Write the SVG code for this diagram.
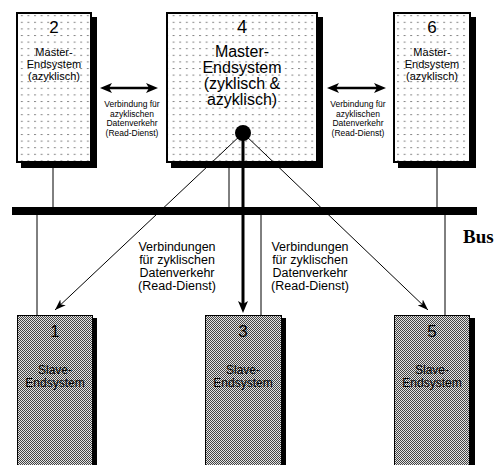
<svg xmlns="http://www.w3.org/2000/svg" width="503" height="465" viewBox="0 0 503 465">
<defs>
<pattern id="dots" patternUnits="userSpaceOnUse" x="1" y="2" width="6.6" height="6.6">
<rect x="0" y="0" width="6.6" height="6.6" fill="#fff"/>
<rect x="0" y="0" width="2" height="1" fill="#888"/>
</pattern>
<pattern id="dither" patternUnits="userSpaceOnUse" x="0" y="0" width="2" height="2">
<rect width="2" height="2" fill="#e4e4e4"/>
<rect x="0" y="0" width="1" height="1" fill="#444"/>
<rect x="1" y="1" width="1" height="1" fill="#444"/>
</pattern>
<marker id="ah" viewBox="0 0 12 10" refX="7" refY="5" markerWidth="12" markerHeight="10" markerUnits="userSpaceOnUse" orient="auto-start-reverse">
<path d="M0,0 L12,5 L0,10 L3,5 z" fill="#000"/>
</marker>
<marker id="ahs" viewBox="0 0 11 8" refX="11" refY="4" markerWidth="11" markerHeight="8" markerUnits="userSpaceOnUse" orient="auto">
<path d="M0,0 L11,4 L0,8 L3,4 z" fill="#000"/>
</marker>
</defs>
<style>
.master{fill:url(#dots);stroke:#000;stroke-width:2}
.slave{fill:url(#dither);stroke:#000;stroke-width:1}
.shadow{fill:#000}
text{font-family:"Liberation Sans",Arial,sans-serif;fill:#000;text-anchor:middle}
.num{font-size:17px}
.lbl{font-size:11px}
.big{font-size:16px}
.small{font-size:8.5px}
.mid{font-size:12.5px}
.thin{stroke:#000;stroke-width:1;fill:none}
.bus{font-family:"Liberation Serif","Times New Roman",serif;font-weight:bold;font-size:19px;text-anchor:start}
</style>

<g id="bus">
<rect x="12" y="207" width="465" height="8" fill="#000"/>
<text class="bus" x="463" y="243">Bus</text>
</g>

<g id="node2">
<rect class="shadow" x="21" y="17" width="76" height="151"/>
<rect class="master" x="17" y="13" width="74" height="149"/>
<text class="num" x="54" y="33">2</text>
<text class="lbl" x="54" y="56">Master-</text>
<text class="lbl" x="54" y="68">Endsystem</text>
<text class="lbl" x="54" y="80">(azyklisch)</text>
</g>

<g id="node4">
<rect class="shadow" x="171" y="17" width="152" height="151"/>
<rect class="master" x="167" y="13" width="150" height="149"/>
<text class="num" x="242" y="33" style="font-size:18px">4</text>
<text class="big" x="242" y="57">Master-</text>
<text class="big" x="242" y="73">Endsystem</text>
<text class="big" x="242" y="89">(zyklisch &amp;</text>
<text class="big" x="242" y="105">azyklisch)</text>
</g>

<g id="node6">
<rect class="shadow" x="398" y="17" width="78" height="151"/>
<rect class="master" x="394" y="13" width="76" height="149"/>
<text class="num" x="432" y="33">6</text>
<text class="lbl" x="432" y="56">Master-</text>
<text class="lbl" x="432" y="68">Endsystem</text>
<text class="lbl" x="432" y="80">(azyklisch)</text>
</g>

<g id="node1">
<rect class="shadow" x="92" y="318" width="5" height="150"/>
<rect class="slave" x="17.5" y="315.5" width="75" height="160"/>
<text class="num" x="55" y="337">1</text>
<text class="lbl" x="55" y="374" style="font-size:12px">Slave-</text>
<text class="lbl" x="55" y="387" style="font-size:12px">Endsystem</text>
</g>

<g id="node3">
<rect class="shadow" x="282" y="318" width="4" height="150"/>
<rect class="slave" x="205.5" y="315.5" width="76" height="160"/>
<text class="num" x="243" y="337">3</text>
<text class="lbl" x="243" y="374" style="font-size:12px">Slave-</text>
<text class="lbl" x="243" y="387" style="font-size:12px">Endsystem</text>
</g>

<g id="node5">
<rect class="shadow" x="470" y="318" width="5" height="150"/>
<rect class="slave" x="394.5" y="315.5" width="75" height="160"/>
<text class="num" x="432" y="337">5</text>
<text class="lbl" x="432" y="374" style="font-size:12px">Slave-</text>
<text class="lbl" x="432" y="387" style="font-size:12px">Endsystem</text>
</g>

<g id="connectors">
<line class="thin" x1="53" y1="168" x2="53" y2="208"/>
<line class="thin" x1="229" y1="168" x2="229" y2="208"/>
<line class="thin" x1="437" y1="168" x2="437" y2="208"/>
<line class="thin" x1="37" y1="214" x2="37" y2="316"/>
<line class="thin" x1="261" y1="214" x2="261" y2="316"/>
<line class="thin" x1="445" y1="214" x2="445" y2="316"/>
<line class="thin" x1="243" y1="133" x2="55" y2="310" marker-end="url(#ahs)"/>
<line class="thin" x1="243" y1="133" x2="428" y2="310" marker-end="url(#ahs)"/>
<line x1="243" y1="133" x2="243" y2="308" stroke="#000" stroke-width="3" marker-end="url(#ah)"/>
<circle cx="243" cy="133" r="8" fill="#000"/>
<line x1="105" y1="88" x2="153" y2="88" stroke="#000" stroke-width="2.5" marker-start="url(#ah)" marker-end="url(#ah)"/>
<line x1="332" y1="88" x2="381" y2="88" stroke="#000" stroke-width="2.5" marker-start="url(#ah)" marker-end="url(#ah)"/>
</g>

<g id="label-acyc-left">
<text class="small" x="132" y="107">Verbindung für</text>
<text class="small" x="132" y="116.5">azyklischen</text>
<text class="small" x="132" y="126">Datenverkehr</text>
<text class="small" x="132" y="135.5">(Read-Dienst)</text>
</g>
<g id="label-acyc-right">
<text class="small" x="358" y="107">Verbindung für</text>
<text class="small" x="358" y="116.5">azyklischen</text>
<text class="small" x="358" y="126">Datenverkehr</text>
<text class="small" x="358" y="135.5">(Read-Dienst)</text>
</g>
<g id="label-cyc-left">
<text class="mid" x="177" y="251">Verbindungen</text>
<text class="mid" x="177" y="264">für zyklischen</text>
<text class="mid" x="177" y="277">Datenverkehr</text>
<text class="mid" x="177" y="290">(Read-Dienst)</text>
</g>
<g id="label-cyc-right">
<text class="mid" x="310" y="251">Verbindungen</text>
<text class="mid" x="310" y="264">für zyklischen</text>
<text class="mid" x="310" y="277">Datenverkehr</text>
<text class="mid" x="310" y="290">(Read-Dienst)</text>
</g>
</svg>
